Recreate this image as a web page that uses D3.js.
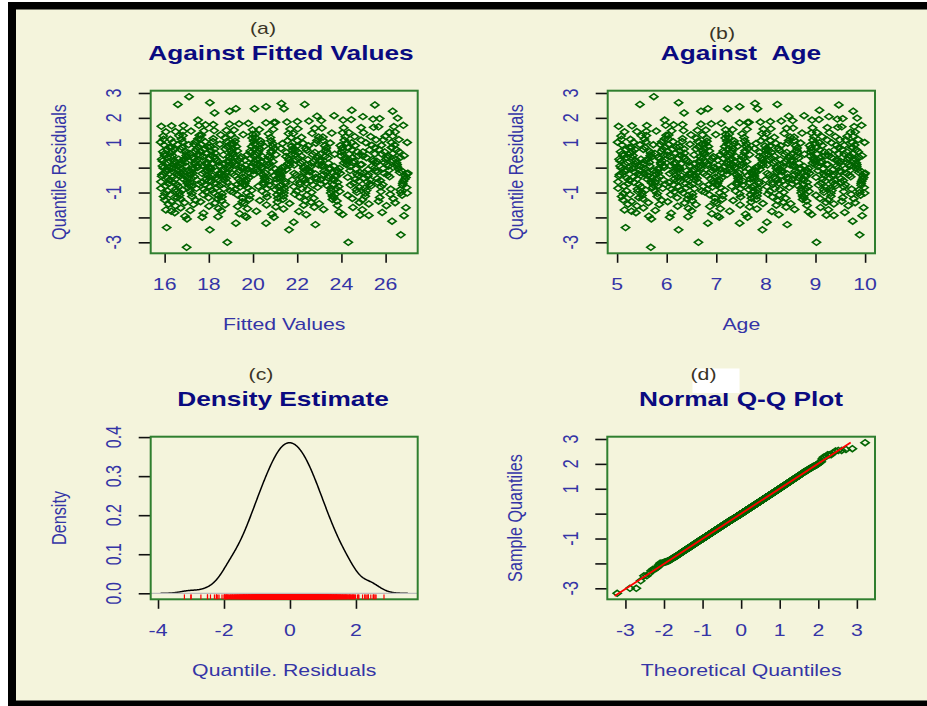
<!DOCTYPE html>
<html>
<head>
<meta charset="utf-8">
<script src="https://cdn.jsdelivr.net/npm/d3@7"></script>
<style>
  html, body { margin: 0; padding: 0; background: #ffffff; }
  svg { display: block; }
</style>
</head>
<body>
<svg id="chart" width="927" height="706"></svg>
<script>
// ---------------------------------------------------------------
// Residual diagnostics: quantile residuals of the fitted model
// against fitted values and age, their density and a normal Q-Q plot.
// ---------------------------------------------------------------

// Age of each child (years)
const ages = [
  5.03,5.18,5.11,5.22,5.06,5.14, 5.20,5.01,5.09,5.16,5.24,5.05, 5.12,5.19,5.08,5.02,5.23,5.15, 5.10,5.04,5.21,5.13,5.07,5.17, 5.24,5.09,5.02,5.19,5.12,5.06, 5.15,5.22,5.04,5.11,5.18,5.08,
  5.31,5.27,5.44,5.38,5.26,5.49, 5.35,5.42,5.29,5.47,5.33,5.40, 5.28,5.45,5.36,5.48,5.30,5.41, 5.26,5.39,5.34,5.46,5.43,5.32, 5.37,5.29,5.48,5.41,5.27,5.35, 5.44,5.31,5.38,5.46,5.33,5.40,
  5.52,5.61,5.57,5.68,5.54,5.73, 5.59,5.51,5.66,5.63,5.56,5.71, 5.74,5.58,5.53,5.69,5.62,5.55, 5.65,5.72,5.60,5.50,5.67,5.57, 5.64,5.53,5.70,5.59,5.55,5.62, 5.68,5.52,5.66,5.58,5.73,5.61,
  5.77,5.86,5.81,5.92,5.79,5.96, 5.84,5.76,5.90,5.88,5.82,5.98, 5.94,5.80,5.87,5.78,5.93,5.85, 5.99,5.83,5.89,5.76,5.91,5.97, 5.81,5.95,5.86,5.79,5.92,5.84, 5.88,5.77,5.97,5.83,5.90,5.94,
  6.02,6.13,6.07,6.21,6.04,6.18, 6.10,6.24,6.01,6.15,6.09,6.22, 6.05,6.19,6.12,6.03,6.16,6.23, 6.08,6.20,6.14,6.06,6.11,6.24, 6.17,6.02,6.13,6.21,6.07,6.19, 6.10,6.04,6.22,6.15,6.09,6.18,
  6.27,6.38,6.31,6.46,6.29,6.42, 6.35,6.26,6.49,6.33,6.40,6.28, 6.44,6.36,6.30,6.47,6.39,6.32, 6.25,6.43,6.37,6.48,6.34,6.41, 6.29,6.45,6.36,6.27,6.40,6.32, 6.47,6.38,6.26,6.43,6.34,6.49,
  6.53,6.64,6.58,6.71,6.51,6.67, 6.60,6.74,6.55,6.69,6.62,6.52, 6.73,6.57,6.66,6.50,6.70,6.61, 6.56,6.68,6.54,6.72,6.63,6.59, 6.65,6.52,6.74,6.57,6.69,6.61, 6.55,6.71,6.63,6.53,6.67,6.59,
  6.78,6.89,6.83,6.97,6.76,6.92, 6.85,6.99,6.80,6.94,6.87,6.77, 6.96,6.82,6.90,6.75,6.93,6.86, 6.81,6.98,6.79,6.91,6.84,6.95, 6.88,6.76,6.97,6.83,6.92,6.79, 6.86,6.99,6.81,6.94,6.89,6.77,
  7.02,7.14,7.07,7.21,7.04,7.18, 7.11,7.24,7.01,7.16,7.09,7.22, 7.06,7.19,7.13,7.03,7.20,7.10, 7.15,7.08,7.23,7.05,7.17,7.12, 7.24,7.02,7.19,7.09,7.14,7.06, 7.21,7.11,7.04,7.17,7.08,7.22,
  7.28,7.39,7.33,7.46,7.26,7.42, 7.35,7.49,7.30,7.44,7.37,7.27, 7.48,7.32,7.41,7.25,7.45,7.36, 7.31,7.47,7.29,7.40,7.34,7.43, 7.38,7.26,7.49,7.33,7.44,7.29, 7.36,7.47,7.31,7.42,7.39,7.27,
  7.52,7.63,7.57,7.71,7.51,7.67, 7.60,7.74,7.55,7.69,7.62,7.53, 7.73,7.58,7.66,7.50,7.70,7.61, 7.56,7.72,7.54,7.68,7.64,7.59, 7.65,7.52,7.74,7.57,7.69,7.61, 7.55,7.71,7.63,7.53,7.67,7.58,
  7.77,7.88,7.82,7.96,7.76,7.92, 7.85,7.99,7.80,7.94,7.87,7.78, 7.98,7.83,7.91,7.75,7.95,7.86, 7.81,7.97,7.79,7.90,7.84,7.93, 7.89,7.76,7.99,7.82,7.94,7.80, 7.86,7.97,7.83,7.92,7.88,7.77,
  8.03,8.14,8.08,8.22,8.01,8.18, 8.11,8.24,8.05,8.16,8.09,8.21, 8.02,8.19,8.13,8.06,8.23,8.10, 8.15,8.04,8.20,8.07,8.17,8.12, 8.24,8.01,8.19,8.09,8.14,8.05, 8.21,8.11,8.03,8.17,8.08,8.22,
  8.28,8.39,8.33,8.46,8.26,8.42, 8.35,8.49,8.30,8.44,8.37,8.27, 8.48,8.32,8.41,8.25,8.45,8.36, 8.31,8.47,8.29,8.40,8.34,8.43, 8.38,8.26,8.49,8.33,8.44,8.29, 8.36,8.47,8.31,8.42,8.39,8.27,
  8.52,8.63,8.57,8.71,8.51,8.67, 8.60,8.74,8.55,8.69,8.62,8.53, 8.73,8.58,8.66,8.50,8.70,8.61, 8.56,8.72,8.54,8.68,8.64,8.59, 8.65,8.52,8.74,8.57,8.69,8.61, 8.55,8.71,8.63,8.53,8.67,8.58,
  8.77,8.88,8.82,8.96,8.76,8.92, 8.85,8.99,8.80,8.94,8.87,8.78, 8.98,8.83,8.91,8.75,8.95,8.86, 8.81,8.97,8.79,8.90,8.84,8.93, 8.89,8.76,8.99,8.82,8.94,8.80, 8.86,8.97,8.83,8.92,8.88,8.77,
  9.03,9.14,9.08,9.22,9.01,9.18, 9.11,9.24,9.05,9.16,9.09,9.21, 9.02,9.19,9.13,9.06,9.23,9.10, 9.15,9.04,9.20,9.07,9.17,9.12, 9.24,9.01,9.19,9.09,9.14,9.05, 9.21,9.11,9.03,9.17,9.08,9.22,
  9.28,9.39,9.33,9.46,9.26,9.42, 9.35,9.49,9.30,9.44,9.37,9.27, 9.48,9.32,9.41,9.25,9.45,9.36, 9.31,9.47,9.29,9.40,9.34,9.43, 9.38,9.26,9.49,9.33,9.44,9.29, 9.36,9.47,9.31,9.42,9.39,9.27,
  9.52,9.63,9.57,9.71,9.51,9.67, 9.60,9.74,9.55,9.69,9.62,9.53, 9.73,9.58,9.66,9.50,9.70,9.61, 9.56,9.72,9.54,9.68,9.64,9.59, 9.65,9.52,9.74,9.57,9.69,9.61, 9.55,9.71,9.63,9.53,9.67,9.58,
  9.77,9.88,9.82,9.96,9.76,9.92, 9.85,9.99,9.80,9.94,9.87,9.78, 9.98,9.83,9.91,9.75,9.95,9.86, 9.81,9.97,9.79,9.90,9.84,9.93, 9.89,9.76,9.99,9.82,9.94,9.80, 9.86,9.97,9.83,9.92,9.88,9.77,
  5.74,5.46,6.24,7.78,7.83,8.23,9.47,9.08,9.76,6.83, 7.23,7.47,5.96,6.35,6.69,8.46,8.77,9.27,9.93,7.66,
  5.68,6.64,9.02,5.17,6.24,6.83,7.03,7.47,7.63,7.93, 8.02,8.43,8.92,9.75,9.89,9.37,5.69,5.29,6.06,9.99, 10.00
];

// Normalised (quantile) residual of each child, same order as ages
const residuals = [
  1.66,-0.08,0.56,-1.47,0.27,-0.74, -0.42,1.02,-1.16,0.14,0.81,-0.28, 0.49,-0.93,1.27,-0.57,0.00,-1.70, 0.91,-0.35,0.20,-1.04,0.64,-0.15, -0.50,1.14,-0.83,0.41,-1.30,0.07, 1.44,-0.65,0.34,-0.21,0.73,-0.01,
  -0.03,0.57,-1.21,0.27,-0.52,1.28, 0.01,-0.96,0.82,-0.31,1.02,-1.54, 0.42,-0.10,0.73,-0.77,1.68,-0.45, -1.08,0.21,-0.60,0.92,-0.24,0.49, 0.14,-1.36,0.34,-0.86,1.14,-0.17, -0.68,0.65,-1.81,0.07,-0.38,1.45,
  0.01,-0.19,0.28,-0.55,0.14,-0.13, 1.46,-1.00,0.65,-1.41,0.82,-0.40, -0.71,1.03,-1.62,0.42,-0.33,1.15, 0.21,-0.80,1.69,-1.12,0.49,-0.06, -1.95,0.73,-0.63,1.29,-0.26,0.35, 0.57,-1.25,0.07,-0.90,0.92,-0.47,
  -0.58,0.35,-1.04,0.74,-0.15,1.16, -0.01,0.57,-1.31,0.21,-0.74,1.70, 0.08,-0.43,0.93,-0.28,0.50,-1.48, 1.30,-0.08,0.65,-0.93,0.28,-0.66, -1.16,0.01,-0.36,1.47,-0.83,0.42, 0.15,-1.72,0.83,-0.22,1.04,-0.50,
  0.66,-0.69,0.08,-1.21,0.93,-0.31, 1.48,-0.04,0.50,-0.97,0.28,-1.55, -0.61,0.83,-0.17,1.16,-0.45,0.36, -1.08,0.01,1.72,-0.24,0.74,-0.77, 0.22,-1.37,1.04,-0.53,0.43,-0.10, -0.87,1.31,-0.38,0.15,-1.83,0.58,
  0.50,-0.40,1.05,-0.72,0.15,-1.26, 0.75,-0.06,1.32,-1.01,0.29,-0.55, -1.64,0.58,-0.33,0.94,-0.81,1.17, 0.02,-1.12,0.36,-0.20,1.49,-0.48, -0.90,0.22,-1.42,0.66,-0.13,1.73, 0.08,-0.63,0.84,-1.97,0.43,-0.26,
  -0.15,0.84,-0.50,0.36,-1.32,0.09, 1.18,-0.75,0.51,-0.02,1.50,-1.05, 0.67,-0.36,0.22,-1.73,0.94,-0.22, -0.84,0.43,-0.08,1.32,-0.58,0.75, 0.02,-1.17,0.59,-0.29,1.75,-0.43, 0.16,-0.94,1.05,-0.66,0.29,-1.49,
  0.95,-0.46,0.16,-1.22,0.59,-0.11, -0.69,1.33,-0.31,0.44,-1.56,0.76, 0.02,-0.87,1.76,-0.24,0.37,-1.09, 1.18,-0.38,0.23,-1.85,0.85,-0.61, -0.18,0.51,-1.37,0.09,-0.78,1.51, 0.67,-0.04,1.06,-0.53,0.30,-0.98,
  -0.64,0.37,-1.01,0.16,-0.56,1.19, -0.20,0.76,-1.43,0.03,-0.81,0.95, -0.48,1.52,-1.13,0.30,-0.13,1.78, 0.59,-1.65,0.44,-0.34,0.85,-1.27, 0.23,-0.72,1.34,-0.06,0.67,-1.99, 1.07,-0.41,0.09,-0.91,0.52,-0.27,
  0.30,-0.94,0.77,-0.22,1.35,-0.59, 0.10,-1.18,0.60,-0.36,0.96,-0.09, -1.50,0.68,-0.29,1.20,-0.51,0.23, -0.75,1.80,-0.16,0.44,-1.32,0.86, -0.02,0.52,-0.84,1.53,-0.43,0.17, 1.07,-1.05,0.37,-0.67,0.03,-1.75,
  0.45,-0.32,1.08,-0.78,0.10,-1.58, 0.86,-0.11,0.38,-1.09,1.54,-0.53, -0.25,0.68,-0.88,0.31,-1.38,0.96, 1.21,-0.39,0.17,-0.61,0.77,-1.87, -0.04,1.36,-0.98,0.60,-0.46,0.24, 0.03,-1.23,1.81,-0.70,0.52,-0.18,
  -0.34,0.61,-1.14,0.24,-0.73,1.37, 0.04,-0.49,0.97,-1.44,0.45,-0.14, 0.87,-0.91,0.17,-0.27,1.55,-0.64, -1.27,0.53,0.00,1.08,-0.81,0.31, 1.83,-0.41,0.69,-1.66,0.10,-0.20, -0.56,1.21,-1.02,0.38,-0.07,0.77,
  0.11,-0.59,0.87,-0.16,1.37,-0.85, 0.38,-1.33,0.53,-0.37,1.09,-0.02, -0.76,0.24,-1.18,0.69,-0.51,1.56, 0.18,-1.06,0.98,-0.30,0.46,-1.76, -0.09,0.78,-0.44,1.85,-0.67,0.31, -1.51,0.61,-0.23,1.22,-0.95,0.04,
  -0.88,0.25,-0.18,1.09,-0.62,0.61, -1.39,0.11,0.88,-0.39,1.38,-1.10, 0.46,-0.11,-1.59,0.78,-0.46,0.18, 1.87,-0.79,0.32,-1.23,0.04,-0.25, 0.53,-1.89,1.23,-0.54,0.98,-0.05, -0.99,0.39,-0.32,1.58,-0.70,0.70,
  0.54,-0.21,1.23,-0.82,0.32,-0.42, 0.88,-1.14,0.11,-0.07,0.70,-0.65, 1.39,-0.27,0.39,-1.45,0.99,-0.57, 0.05,-0.92,1.89,-0.34,0.62,-0.14, -0.73,0.25,-1.28,1.10,-0.01,0.46, 1.59,-1.02,0.79,-0.49,0.18,-1.68,
  -0.52,0.89,-0.09,0.39,-1.19,1.40, -0.76,0.12,-0.30,1.60,-0.95,0.54, 0.25,-1.52,0.79,-0.44,1.11,-0.03, -0.85,0.32,-1.07,0.62,-0.16,1.91, 0.47,-0.67,0.99,-1.34,0.19,-0.37, -1.78,1.24,-0.59,0.70,-0.23,0.05,
  0.33,-0.47,1.00,-0.19,-1.11,0.63, -0.62,1.61,0.05,-0.89,0.40,-1.40, 0.80,-0.32,1.25,-0.70,0.12,-1.60, -0.05,0.55,-0.54,1.93,-0.99,0.26, 1.11,-0.39,0.47,-1.24,0.89,-0.12, -0.79,0.19,1.41,-0.25,0.71,-1.91,
  1.41,-0.65,0.40,-0.01,-1.29,0.90, -0.35,1.12,-0.82,0.26,-1.46,0.63, -0.14,1.00,-0.73,0.13,1.62,-0.28, -1.03,0.55,-0.42,1.25,-0.57,0.33, 0.71,-1.69,0.19,-0.92,1.95,-0.21, -0.07,0.80,-1.15,0.06,-0.49,0.47,
  -0.60,0.20,-0.77,1.42,-0.44,0.40, -0.68,1.01,-1.20,0.06,-0.23,1.64, -0.86,0.55,-1.53,0.26,-0.10,1.12, -0.52,-1.07,0.72,-0.30,1.26,-1.80, 0.33,-0.17,0.81,-0.96,0.48,-0.03, 1.97,-0.37,0.63,-1.35,0.13,0.90,
  0.27,-0.89,0.72,-0.33,1.27,-0.63, -0.05,1.01,-1.41,0.48,-0.19,1.65, -0.80,0.13,-1.11,0.81,-0.47,1.13, 0.34,-1.61,0.91,-0.12,1.99,-0.55, -1.00,0.56,-0.26,0.20,-1.93,1.43, 0.64,-0.40,0.06,-0.71,0.41,-1.25,
  2.85,2.54,2.61,2.58,2.37,2.54,2.52,2.31,2.27,2.37, 2.37,2.45,1.91,2.20,2.27,2.07,2.09,2.05,1.70,1.82,
  -3.20,-3.00,-3.00,-2.41,-2.50,-2.23,-1.94,-2.23,-1.99,-2.50, -2.19,-2.29,-1.88,-2.15,-2.70,-1.92,-2.06,-1.75,-1.99,-1.02, -0.22
];

// Log-link mean model: fitted value = exp(b0 + b1 * age)
const muIntercept = 2.224;
const muSlope = 0.1072;

// Axis ticks and their labels (blank where the label is suppressed)
const residTicks = [-3, -2, -1, 0, 1, 2, 3];
const residTickLabels = ["-3", "", "-1", "", "1", "2", "3"];
const fittedTicks = [16, 18, 20, 22, 24, 26];
const ageTicks = [5, 6, 7, 8, 9, 10];
const densityXTicks = [-4, -2, 0, 2];
const densityYTicks = [0, 0.1, 0.2, 0.3, 0.4];
const densityYTickLabels = ["0.0", "0.1", "0.2", "0.3", "0.4"];
const theoTicks = [-3, -2, -1, 0, 1, 2, 3];

// Panel texts
const panelTags = ["(a)", "(b)", "(c)", "(d)"];
const panelTitles = ["Against Fitted Values", "Against\u00a0\u00a0Age", "Density Estimate", "Normal Q-Q Plot"];
const xTitles = ["Fitted Values", "Age", "Quantile. Residuals", "Theoretical Quantiles"];
const yTitles = ["Quantile Residuals", "Quantile Residuals", "Density", "Sample Quantiles"];

// Extent of the reference line drawn on the Q-Q plot (theoretical quantiles)
const qqLineSpan = [-3.28, 2.84];

// ---------------------------------------------------------------
const n = Math.min(ages.length, residuals.length);
const age = ages.slice(0, n);
const res = residuals.slice(0, n);
const fitted = age.map(a => Math.exp(muIntercept + muSlope * a));

// Colours and type
const BG = "#f4f4dc";
const PT = "#006400";
const BOX = "#2f7f2f";
const AXT = "#3434a6";
const TITLE = "#0a0a80";
const TAG = "#3a3426";
const FONT = "'Liberation Sans', Arial, Helvetica, sans-serif";
const SX = 1.25;   // horizontal stretch of the lettering

const svg = d3.select("#chart");

// frame
svg.append("rect").attr("x", 0).attr("y", 0).attr("width", 927).attr("height", 706).attr("fill", "#ffffff");
svg.append("rect").attr("x", 8).attr("y", 2).attr("width", 919).attr("height", 704).attr("fill", "#000000");
svg.append("rect").attr("x", 16).attr("y", 9.5).attr("width", 911).attr("height", 691).attr("fill", BG);

// Plot regions
const boxes = [
  { left: 150.7, right: 417.7, top: 90.7,  bottom: 253.3 },
  { left: 607.7, right: 875.0, top: 90.7,  bottom: 253.3 },
  { left: 150.7, right: 417.7, top: 436.7, bottom: 599.3 },
  { left: 607.3, right: 875.0, top: 436.7, bottom: 599.3 }
];
const tagPos = [[263, 34], [722, 38.5], [261, 379.5], [703.5, 380]];
const titlePos = [[281, 60], [741, 60], [283, 406], [741, 406]];

// R-style axis range: data range widened by 4% on each side
function pad(ext) {
  const r = ext[1] - ext[0];
  return [ext[0] - 0.04 * r, ext[1] + 0.04 * r];
}

function text(g, s, x, y, o) {
  return g.append("text")
    .attr("transform", `translate(${x},${y}) scale(${o.sx || SX},1)` + (o.rotate ? " rotate(-90)" : ""))
    .attr("text-anchor", o.anchor || "middle")
    .attr("font-family", FONT)
    .attr("font-size", o.size)
    .attr("font-weight", o.weight || "normal")
    .attr("fill", o.fill)
    .text(s);
}

function diamonds(g, xs, ys, sx, sy) {
  const hw = 4.1, hh = 3.0;
  const path = `M0,${-hh}L${hw},0L0,${hh}L${-hw},0Z`;
  g.append("g").selectAll("path")
    .data(d3.range(xs.length))
    .join("path")
    .attr("d", path)
    .attr("transform", i => `translate(${sx(xs[i])},${sy(ys[i])})`)
    .attr("fill", "none")
    .attr("stroke", PT)
    .attr("stroke-width", 1.6);
}

function xAxis(g, box, scale, ticks, labels) {
  const ga = g.append("g").attr("transform", `translate(0,${box.bottom})`);
  const ax = d3.axisBottom(scale).tickValues(ticks).tickSize(9.5).tickSizeOuter(0).tickFormat("");
  ga.call(ax);
  ga.select(".domain").remove();
  ga.selectAll(".tick line").attr("stroke", "#111").attr("stroke-width", 1.6).attr("y1", 0.5);
  ticks.forEach((t, i) => {
    const s = labels ? labels[i] : String(t);
    if (s) text(g, s, scale(t), box.bottom + 36.5, { size: 17, fill: AXT });
  });
}

function yAxis(g, box, scale, ticks, labels) {
  const ga = g.append("g").attr("transform", `translate(${box.left},0)`);
  const ax = d3.axisLeft(scale).tickValues(ticks).tickSize(12).tickSizeOuter(0).tickFormat("");
  ga.call(ax);
  ga.select(".domain").remove();
  ga.selectAll(".tick line").attr("stroke", "#111").attr("stroke-width", 1.6);
  ticks.forEach((t, i) => {
    const s = labels ? labels[i] : String(t);
    if (s) text(g, s, box.left - 29.5, scale(t), { size: 16, fill: AXT, rotate: true, sx: 1.4 });
  });
}

function frame(g, box) {
  g.append("rect")
    .attr("x", box.left).attr("y", box.top)
    .attr("width", box.right - box.left).attr("height", box.bottom - box.top)
    .attr("fill", "none").attr("stroke", BOX).attr("stroke-width", 2);
}

function titles(g, k) {
  const box = boxes[k];
  text(g, panelTitles[k], titlePos[k][0], titlePos[k][1], { size: 21, weight: "bold", fill: TITLE });
  if (k === 3) {
    // white patch behind the panel tag
    g.append("rect").attr("x", 692.5).attr("y", 368.5).attr("width", 47).attr("height", 24.5).attr("fill", "#ffffff");
  }
  text(g, panelTags[k], tagPos[k][0], tagPos[k][1], { size: 17, fill: TAG });
  text(g, xTitles[k], (box.left + box.right) / 2, box.bottom + 76.7, { size: 17, fill: AXT });
  text(g, yTitles[k], box.left - 85, (box.top + box.bottom) / 2, { size: 16.2, fill: AXT, rotate: true });
}

// ---------------- (a) residuals vs fitted values ----------------
{
  const k = 0, box = boxes[k], g = svg.append("g");
  const x = d3.scaleLinear().domain(pad(d3.extent(fitted))).range([box.left, box.right]);
  const y = d3.scaleLinear().domain(pad(d3.extent(res))).range([box.bottom, box.top]);
  diamonds(g, fitted, res, x, y);
  xAxis(g, box, x, fittedTicks);
  yAxis(g, box, y, residTicks, residTickLabels);
  frame(g, box);
  titles(g, k);
}

// ---------------- (b) residuals vs age ----------------
{
  const k = 1, box = boxes[k], g = svg.append("g");
  const x = d3.scaleLinear().domain(pad(d3.extent(age))).range([box.left, box.right]);
  const y = d3.scaleLinear().domain(pad(d3.extent(res))).range([box.bottom, box.top]);
  diamonds(g, age, res, x, y);
  xAxis(g, box, x, ageTicks);
  yAxis(g, box, y, residTicks, residTickLabels);
  frame(g, box);
  titles(g, k);
}

// ---------------- (c) kernel density of residuals ----------------
const sorted = res.slice().sort(d3.ascending);
{
  const k = 2, box = boxes[k], g = svg.append("g");
  const sd = d3.deviation(res);
  const iqr = d3.quantile(sorted, 0.75) - d3.quantile(sorted, 0.25);
  const bw = 0.9 * Math.min(sd, iqr / 1.34) * Math.pow(n, -0.2);
  const lo = sorted[0] - 3 * bw, hi = sorted[n - 1] + 3 * bw;
  const grid = d3.range(512).map(i => lo + (hi - lo) * i / 511);
  const norm = 1 / (n * bw * Math.sqrt(2 * Math.PI));
  const dens = grid.map(xv => [xv, norm * d3.sum(res, r => Math.exp(-0.5 * ((xv - r) / bw) ** 2))]);
  const ymax = d3.max(dens, d => d[1]);

  const x = d3.scaleLinear().domain(pad([lo, hi])).range([box.left, box.right]);
  const y = d3.scaleLinear().domain(pad([0, ymax])).range([box.bottom, box.top]);

  g.append("path")
    .datum(dens)
    .attr("d", d3.line().x(d => x(d[0])).y(d => y(d[1])))
    .attr("fill", "none").attr("stroke", "#000").attr("stroke-width", 1.5);
  // zero line
  g.append("line")
    .attr("x1", box.left).attr("x2", box.right).attr("y1", y(0)).attr("y2", y(0))
    .attr("stroke", "#bdbdbd").attr("stroke-width", 1.2);
  xAxis(g, box, x, densityXTicks);
  yAxis(g, box, y, densityYTicks, densityYTickLabels);
  frame(g, box);
  // rug of residuals
  const rugLen = 0.03 * (box.bottom - box.top);
  g.append("g").selectAll("line").data(res).join("line")
    .attr("x1", d => x(d)).attr("x2", d => x(d))
    .attr("y1", box.bottom).attr("y2", box.bottom - rugLen)
    .attr("stroke", "#ff0000").attr("stroke-width", 1.2);
  titles(g, k);
}

// ---------------- (d) normal Q-Q plot ----------------
function qnorm(p) {
  const a = [-3.969683028665376e+01, 2.209460984245205e+02, -2.759285104469687e+02, 1.383577518672690e+02, -3.066479806614716e+01, 2.506628277459239e+00];
  const b = [-5.447609879822406e+01, 1.615858368580409e+02, -1.556989798598866e+02, 6.680131188771972e+01, -1.328068155288572e+01];
  const c = [-7.784894002430293e-03, -3.223964580411365e-01, -2.400758277161838e+00, -2.549732539343734e+00, 4.374664141464968e+00, 2.938163982698783e+00];
  const d = [7.784695709041462e-03, 3.224671290700398e-01, 2.445134137142996e+00, 3.754408661907416e+00];
  const pl = 0.02425, ph = 1 - pl;
  let q, r;
  if (p < pl) {
    q = Math.sqrt(-2 * Math.log(p));
    return (((((c[0] * q + c[1]) * q + c[2]) * q + c[3]) * q + c[4]) * q + c[5]) / ((((d[0] * q + d[1]) * q + d[2]) * q + d[3]) * q + 1);
  }
  if (p <= ph) {
    q = p - 0.5; r = q * q;
    return (((((a[0] * r + a[1]) * r + a[2]) * r + a[3]) * r + a[4]) * r + a[5]) * q / (((((b[0] * r + b[1]) * r + b[2]) * r + b[3]) * r + b[4]) * r + 1);
  }
  q = Math.sqrt(-2 * Math.log(1 - p));
  return -(((((c[0] * q + c[1]) * q + c[2]) * q + c[3]) * q + c[4]) * q + c[5]) / ((((d[0] * q + d[1]) * q + d[2]) * q + d[3]) * q + 1);
}
{
  const k = 3, box = boxes[k], g = svg.append("g");
  const theo = sorted.map((_, i) => qnorm((i + 0.5) / n));
  const x = d3.scaleLinear().domain(pad(d3.extent(theo))).range([box.left, box.right]);
  const y = d3.scaleLinear().domain(pad(d3.extent(sorted))).range([box.bottom, box.top]);
  diamonds(g, theo, sorted, x, y);
  // line through the quartiles
  const q1 = d3.quantile(sorted, 0.25), q3 = d3.quantile(sorted, 0.75);
  const z1 = qnorm(0.25), z3 = qnorm(0.75);
  const slope = (q3 - q1) / (z3 - z1), icpt = q1 - slope * z1;
  g.append("line")
    .attr("x1", x(qqLineSpan[0])).attr("y1", y(icpt + slope * qqLineSpan[0]))
    .attr("x2", x(qqLineSpan[1])).attr("y2", y(icpt + slope * qqLineSpan[1]))
    .attr("stroke", "#ff0000").attr("stroke-width", 1.8);
  xAxis(g, box, x, theoTicks);
  yAxis(g, box, y, residTicks, residTickLabels);
  frame(g, box);
  titles(g, k);
}
</script>
</body>
</html>
